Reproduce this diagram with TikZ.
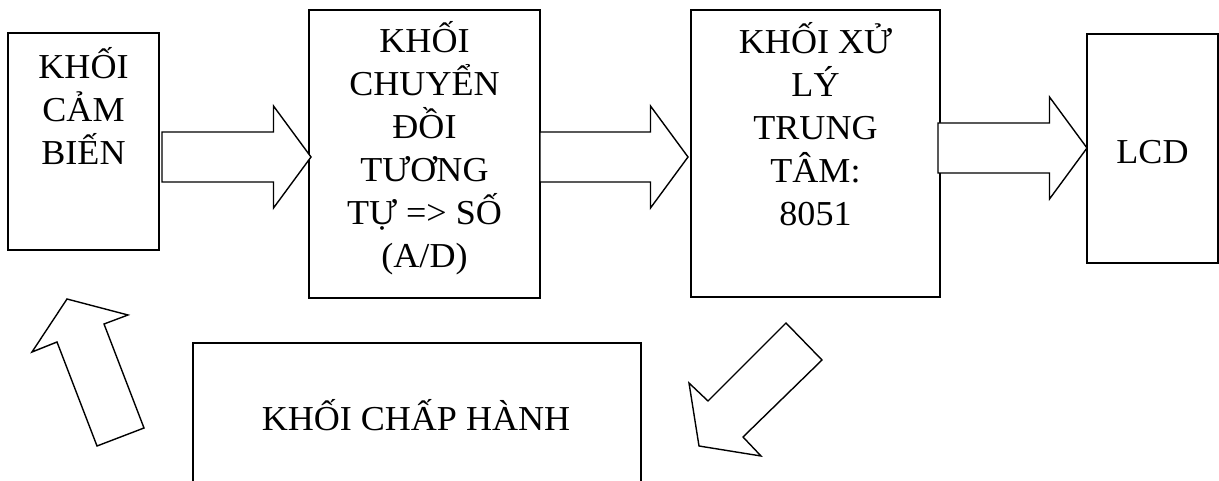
\documentclass[tikz,border=0pt]{standalone}
\usepackage{fontspec}
\setmainfont{Liberation Serif}[FakeStretch=1.03]

% centred lines stacked at the font's baseline skip; baseline = first line
\newcommand\linestack[1]{\vtop{\halign{\hfil##\hfil\cr#1\crcr}}}

% horizontal block arrow: start x, tip x, centre y
\newcommand\blockarrowh[3]{%
  \draw[blockarrow] (#1,#3-25) -- (#2-37.5,#3-25) -- (#2-37.5,#3-51)
    -- (#2,#3) -- (#2-37.5,#3+51) -- (#2-37.5,#3+25) -- (#1,#3+25) -- cycle;}

\tikzset{
  box/.style={draw=black, line width=2pt, inner sep=0pt},
  lbl/.style={inner sep=0pt, font=\fontsize{35}{43}\selectfont},
  blockarrow/.style={draw=black, line width=1.4pt, line join=miter, fill=white},
}

\begin{document}
\begin{tikzpicture}[x=1pt, y=-1pt]
  \useasboundingbox (0,0) rectangle (1219,481);

  % blocks of the upper row
  \node[box, minimum width=151pt, minimum height=217pt] (sensor) at (83.5,141.5) {};
  \node[box, minimum width=231pt, minimum height=288pt] (adc)    at (424.5,154) {};
  \node[box, minimum width=249pt, minimum height=287pt] (cpu)    at (815.5,153.5) {};
  \node[box, minimum width=131pt, minimum height=229pt] (lcd)    at (1152.5,148.5) {};

  \node[lbl, anchor=base] (sensortext) at (83.5,79)   {\linestack{KHỐI\cr CẢM\cr BIẾN}};
  \node[lbl, anchor=base] (adctext)    at (424.5,53)  {\linestack{KHỐI\cr CHUYỂN\cr ĐỒI\cr TƯƠNG\cr TỰ => SỐ\cr (A/D)}};
  \node[lbl, anchor=base] (cputext)    at (815.5,54)  {\linestack{KHỐI XỬ\cr LÝ\cr TRUNG\cr TÂM:\cr 8051}};
  \node[lbl, anchor=base] (lcdtext)    at (1152.5,164) {LCD};

  % actuator block, running off the lower edge
  \begin{scope}
    \clip (0,0) rectangle (1219,481);
    \node[box, anchor=north west, minimum width=448pt, minimum height=220pt] (act) at (192,342) {};
  \end{scope}
  \node[lbl, anchor=base] (acttext) at (416,430) {KHỐI CHẤP HÀNH};

  % block arrows of the signal chain
  \blockarrowh{162}{311}{157}
  \blockarrowh{540}{688}{157}
  \blockarrowh{938}{1087}{148}

  % CPU towards actuator
  \draw[blockarrow] (786,323) -- (822,360) -- (743,437) -- (761,456)
    -- (699,446) -- (689,383) -- (708,401) -- cycle;

  % actuator back to sensor
  \draw[blockarrow] (67,299) -- (128,315) -- (104,324) -- (144,428)
    -- (97,446) -- (57,342) -- (32,352) -- cycle;
\end{tikzpicture}
\end{document}
